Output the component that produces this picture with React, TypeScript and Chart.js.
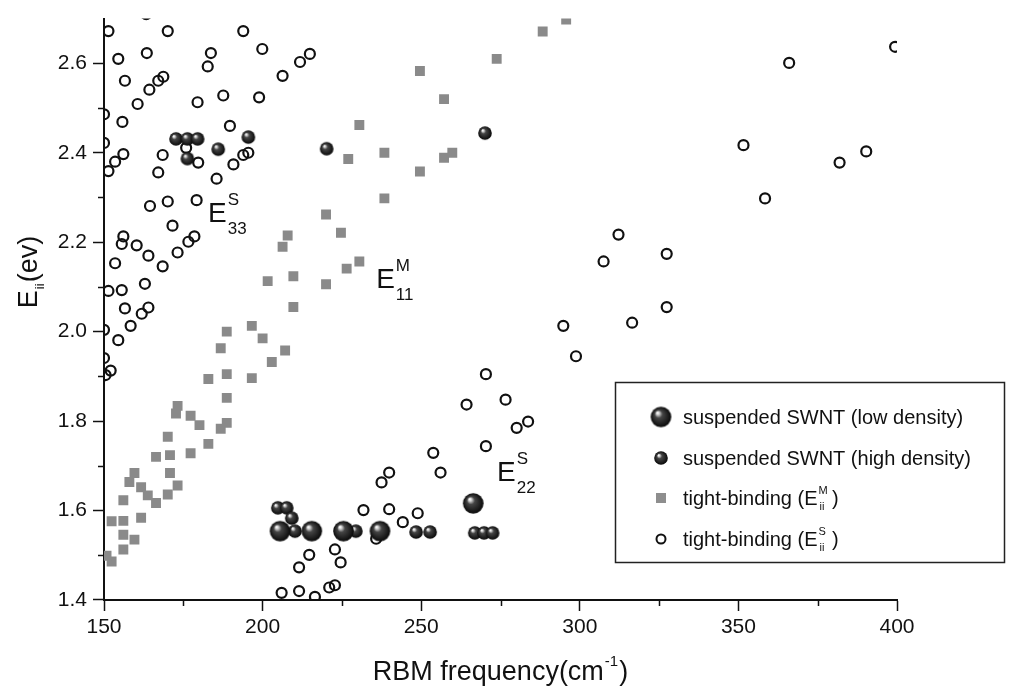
import React, { useEffect, useRef } from "react";
import { Chart, registerables } from "chart.js";
Chart.register(...registerables);

const FONT = '"Liberation Sans", Arial, Helvetica, sans-serif';

// Axis setup
const xMin = 150;
const xMax = 400;
const xStep = 50;
const xMinorTicks = [175, 225, 275, 325, 375];
const yMin = 1.4;
const yMax = 2.7;
const yStep = 0.2;
const yMinorTicks = [1.5, 1.7, 1.9, 2.1, 2.3, 2.5];

// suspended SWNT (low density) — large spheres
const lowFreq = [205.5, 215.5, 225.5, 237.0, 266.4];
const lowE = [1.554, 1.554, 1.554, 1.554, 1.616];

// suspended SWNT (high density) — small spheres
const highFreq = [172.7, 176.3, 179.5, 176.3, 186.0, 195.5, 220.2, 270.1, 204.8, 207.6, 209.2, 210.2, 229.4, 248.4, 252.8, 266.9, 269.8, 272.5];
const highE = [2.431, 2.431, 2.431, 2.387, 2.408, 2.435, 2.409, 2.444, 1.606, 1.606, 1.583, 1.554, 1.554, 1.552, 1.552, 1.55, 1.55, 1.55];

// tight-binding E^M_ii — gray squares
const emFreq = [273.8, 249.6, 257.2, 230.5, 227.0, 238.4, 249.6, 257.2, 259.8, 238.4, 220.0, 224.7, 207.9, 206.3, 226.5, 230.5, 201.6, 209.7, 220.0, 209.7, 295.7, 288.3,
  188.7, 196.6, 200.0, 186.8, 207.1, 202.9, 182.9, 188.7, 196.6, 188.7, 173.2, 172.7, 177.3, 180.1, 188.7, 186.8, 170.1, 182.9, 166.4, 170.8, 177.3, 159.6, 158.0, 161.7, 163.8, 166.4, 170.8, 173.2, 170.1, 156.1, 152.4, 156.1, 161.7, 156.1, 159.6, 156.1, 152.4, 150.8];
const emE = [2.61, 2.583, 2.52, 2.462, 2.386, 2.4, 2.358, 2.389, 2.4, 2.298, 2.262, 2.221, 2.215, 2.19, 2.141, 2.157, 2.113, 2.124, 2.106, 2.055, 2.698, 2.671,
  2.0, 2.013, 1.985, 1.963, 1.958, 1.932, 1.894, 1.905, 1.896, 1.852, 1.834, 1.817, 1.812, 1.791, 1.796, 1.783, 1.765, 1.749, 1.72, 1.724, 1.728, 1.684, 1.664, 1.652, 1.634, 1.617, 1.684, 1.656, 1.636, 1.623, 1.576, 1.577, 1.584, 1.546, 1.535, 1.513, 1.486, 1.499];

// tight-binding E^S_ii — open circles
const esFreq = [151.4, 170.1, 193.9, 163.3, 154.5, 163.5, 183.7, 182.7, 199.9, 211.8, 214.9,
  156.6, 164.3, 167.1, 168.7, 160.6, 206.3, 179.5, 187.6, 198.9,
  150.0, 155.8, 189.7, 150.0, 153.5, 156.1, 151.4, 168.5, 167.1, 175.9, 179.7, 185.5, 190.8, 193.9, 195.5,
  164.5, 170.1, 179.2, 156.1, 155.6, 160.3, 164.0, 153.5, 171.6, 168.5, 173.2, 176.6, 178.5,
  151.4, 155.6, 162.9, 156.6, 164.0, 161.9, 158.4, 154.5, 150.0, 150.0, 152.1, 150.5,
  206.0, 211.5, 216.5, 221.0, 222.8, 211.5, 214.7, 222.8, 224.6, 231.8, 235.8, 237.5, 239.9, 239.9, 244.2, 248.9, 253.8, 256.1, 264.3, 270.4, 270.4, 276.6, 280.1, 283.7,
  294.8, 298.8, 307.5, 312.2, 316.5, 327.4, 327.4, 351.6, 358.4, 366.0, 381.9, 390.3, 399.4];
const esE = [2.672, 2.672, 2.672, 2.71, 2.61, 2.623, 2.623, 2.593, 2.632, 2.603, 2.621,
  2.561, 2.541, 2.561, 2.57, 2.509, 2.572, 2.513, 2.528, 2.524,
  2.486, 2.469, 2.46, 2.422, 2.38, 2.397, 2.359, 2.395, 2.356, 2.411, 2.378, 2.342, 2.374, 2.395, 2.4,
  2.281, 2.291, 2.294, 2.213, 2.196, 2.193, 2.17, 2.153, 2.237, 2.146, 2.177, 2.201, 2.213,
  2.091, 2.093, 2.107, 2.052, 2.054, 2.04, 2.013, 1.981, 2.004, 1.941, 1.913, 1.903,
  1.416, 1.42, 1.407, 1.428, 1.433, 1.473, 1.501, 1.513, 1.484, 1.601, 1.537, 1.663, 1.685, 1.603, 1.574, 1.594, 1.729, 1.685, 1.837, 1.905, 1.744, 1.848, 1.785, 1.799,
  2.013, 1.945, 2.157, 2.217, 2.02, 2.174, 2.055, 2.417, 2.298, 2.601, 2.378, 2.403, 2.637];

// In-plot labels (anchored in data units)
const annoText = ["E", "E", "E"];
const annoSup = ["S", "M", "S"];
const annoSub = ["33", "11", "22"];
const annoFreq = [182.8, 235.8, 273.9];
const annoE = [2.245, 2.098, 1.665];

// Legend entries
const legendLabels = ["suspended SWNT (low density)", "suspended SWNT (high density)", "tight-binding (E", "tight-binding (E"];
const legendSup = ["", "", "M", "S"];

function toPoints(xs: number[], ys: number[]) {
  return xs.map((x, i) => ({ x, y: ys[i] }));
}

function makeSphere(r: number): HTMLCanvasElement {
  const size = Math.ceil(r * 2) + 2;
  const c = document.createElement("canvas");
  c.width = size;
  c.height = size;
  const ctx = c.getContext("2d")!;
  const cx = size / 2;
  const cy = size / 2;
  const g = ctx.createRadialGradient(cx - r * 0.35, cy - r * 0.42, r * 0.04, cx, cy, r);
  g.addColorStop(0, "#ffffff");
  g.addColorStop(0.12, "#d0d0d0");
  g.addColorStop(0.35, "#454545");
  g.addColorStop(1, "#080808");
  ctx.fillStyle = g;
  ctx.beginPath();
  ctx.arc(cx, cy, r, 0, Math.PI * 2);
  ctx.fill();
  return c;
}

function drawSupSub(ctx: CanvasRenderingContext2D, x: number, y: number, base: string, baseSize: number, sup: string, sub: string, smallSize: number, supDy: number, subDy: number) {
  ctx.font = `${baseSize}px ${FONT}`;
  ctx.fillText(base, x, y);
  const w = ctx.measureText(base).width;
  ctx.font = `${smallSize}px ${FONT}`;
  const ws = sup ? ctx.measureText(sup).width : 0;
  const wb = sub ? ctx.measureText(sub).width : 0;
  if (sup) ctx.fillText(sup, x + w + 1, y + supDy);
  if (sub) ctx.fillText(sub, x + w + 1, y + subDy);
  return x + w + 1 + Math.max(ws, wb);
}

export default function App() {
  const ref = useRef<HTMLCanvasElement | null>(null);

  useEffect(() => {
    if (!ref.current) return;
    const bigSphere = makeSphere(10.3);
    const smallSphere = makeSphere(6.8);

    const overlay = {
      id: "overlay",
      afterDraw(chart: any) {
        const ctx: CanvasRenderingContext2D = chart.ctx;
        const xs = chart.scales.x;
        const ys = chart.scales.y;
        const area = chart.chartArea;
        ctx.save();
        // minor ticks
        ctx.strokeStyle = "#111";
        ctx.lineWidth = 1.5;
        ctx.beginPath();
        xMinorTicks.forEach((v) => {
          const px = Math.round(xs.getPixelForValue(v)) + 0.5;
          ctx.moveTo(px, area.bottom);
          ctx.lineTo(px, area.bottom + 6);
        });
        yMinorTicks.forEach((v) => {
          const py = Math.round(ys.getPixelForValue(v)) + 0.5;
          ctx.moveTo(area.left, py);
          ctx.lineTo(area.left - 6, py);
        });
        ctx.stroke();

        ctx.fillStyle = "#111";
        ctx.textBaseline = "alphabetic";
        ctx.textAlign = "left";
        // annotations
        annoText.forEach((t, i) => {
          const px = xs.getPixelForValue(annoFreq[i]);
          const py = ys.getPixelForValue(annoE[i]);
          drawSupSub(ctx, px, py, t, 28, annoSup[i], annoSub[i], 17, -17, 12);
        });

        // legend
        const lx = 615.5, ly = 382.5, lw = 389, lh = 180;
        ctx.fillStyle = "#ffffff";
        ctx.fillRect(lx, ly, lw, lh);
        ctx.strokeStyle = "#222";
        ctx.lineWidth = 1.5;
        ctx.strokeRect(lx, ly, lw, lh);
        const symX = 661;
        const txtX = 683;
        const rows = [417, 458, 498, 539];
        ctx.drawImage(bigSphere, symX - bigSphere.width / 2, rows[0] - bigSphere.height / 2);
        ctx.drawImage(smallSphere, symX - smallSphere.width / 2, rows[1] - smallSphere.height / 2);
        ctx.fillStyle = "#8e8e8e";
        ctx.fillRect(symX - 5, rows[2] - 5, 10, 10);
        ctx.strokeStyle = "#111";
        ctx.lineWidth = 2;
        ctx.beginPath();
        ctx.arc(symX, rows[3], 4.5, 0, Math.PI * 2);
        ctx.stroke();
        ctx.fillStyle = "#111";
        ctx.textBaseline = "alphabetic";
        legendLabels.forEach((lab, r) => {
          const base = rows[r] + 7;
          ctx.font = `20px ${FONT}`;
          ctx.fillText(lab, txtX, base);
          if (legendSup[r]) {
            const w1 = ctx.measureText(lab).width;
            ctx.font = `11px ${FONT}`;
            ctx.fillText(legendSup[r], txtX + w1 + 1, base - 11);
            ctx.fillText("ii", txtX + w1 + 2, base + 5);
            ctx.font = `20px ${FONT}`;
            ctx.fillText(" )", txtX + w1 + 9, base);
          }
        });

        // x axis title
        ctx.font = `27px ${FONT}`;
        const xt1 = "RBM frequency(cm";
        const w1 = ctx.measureText(xt1).width;
        ctx.font = `15px ${FONT}`;
        const wsup = ctx.measureText("-1").width;
        ctx.font = `27px ${FONT}`;
        const wend = ctx.measureText(")").width;
        const total = w1 + wsup + 2 + wend;
        const cx = (area.left + area.right) / 2;
        const startX = cx - total / 2;
        const baseY = 680;
        ctx.fillText(xt1, startX, baseY);
        ctx.font = `15px ${FONT}`;
        ctx.fillText("-1", startX + w1 + 1, baseY - 14);
        ctx.font = `27px ${FONT}`;
        ctx.fillText(")", startX + w1 + wsup + 2, baseY);

        // y axis title
        ctx.save();
        ctx.translate(37, 272);
        ctx.rotate(-Math.PI / 2);
        ctx.font = `27px ${FONT}`;
        const ew = ctx.measureText("E").width;
        ctx.font = `13px ${FONT}`;
        const iw = ctx.measureText("ii").width;
        ctx.font = `27px ${FONT}`;
        const rest = "(ev)";
        const rw = ctx.measureText(rest).width;
        const tot = ew + iw + 2 + rw;
        const sx = -tot / 2;
        ctx.fillText("E", sx, 0);
        ctx.font = `13px ${FONT}`;
        ctx.fillText("ii", sx + ew + 1, 7);
        ctx.font = `27px ${FONT}`;
        ctx.fillText(rest, sx + ew + iw + 2, 0);
        ctx.restore();

        ctx.restore();
      },
    };

    const chart = new Chart(ref.current, {
      type: "scatter",
      data: {
        datasets: [
          {
            label: "suspended SWNT (low density)",
            data: toPoints(lowFreq, lowE),
            pointStyle: bigSphere as any,
            pointRadius: 10.3,
            clip: 0,
          },
          {
            label: "suspended SWNT (high density)",
            data: toPoints(highFreq, highE),
            pointStyle: smallSphere as any,
            pointRadius: 6.8,
            clip: 0,
          },
          {
            label: "tight-binding (E^M_ii)",
            data: toPoints(emFreq, emE),
            pointStyle: "rect",
            pointRadius: 7,
            backgroundColor: "#8a8a8a",
            borderWidth: 0,
            borderColor: "rgba(0,0,0,0)",
            clip: 0,
          },
          {
            label: "tight-binding (E^S_ii)",
            data: toPoints(esFreq, esE),
            pointStyle: "circle",
            pointRadius: 5,
            borderWidth: 2.2,
            borderColor: "#111",
            backgroundColor: "rgba(255,255,255,0)",
            clip: 0,
          },
        ] as any,
      },
      options: {
        animation: false,
        responsive: false,
        events: [],
        layout: { padding: { left: 0, top: 7.5, right: 113, bottom: 0 } },
        plugins: { legend: { display: false }, tooltip: { enabled: false } },
        scales: {
          x: {
            type: "linear",
            min: xMin,
            max: xMax,
            ticks: { stepSize: xStep, font: { family: FONT, size: 21 }, color: "#111", padding: 4, maxRotation: 0, autoSkip: false },
            grid: { drawOnChartArea: false, drawTicks: true, tickLength: 11, tickColor: "#111", tickWidth: 1.5 },
            border: { display: true, color: "#111", width: 2 },
            afterFit: (s: any) => {
              s.height = 96;
            },
          },
          y: {
            type: "linear",
            min: yMin,
            max: yMax,
            ticks: {
              stepSize: yStep,
              includeBounds: false,
              font: { family: FONT, size: 21 },
              color: "#111",
              padding: 6,
              callback: (v: any) => Number(v).toFixed(1),
            },
            grid: { drawOnChartArea: false, drawTicks: true, tickLength: 11, tickColor: "#111", tickWidth: 1.5 },
            border: { display: true, color: "#111", width: 2 },
            afterFit: (s: any) => {
              s.width = 104;
            },
          },
        },
      } as any,
      plugins: [overlay],
    });
    return () => chart.destroy();
  }, []);

  return (
    <div style={{ position: "fixed", left: 0, top: 0, width: 1010, height: 696, background: "#fff" }}>
      <canvas ref={ref} width={1010} height={696} style={{ display: "block" }} />
    </div>
  );
}
